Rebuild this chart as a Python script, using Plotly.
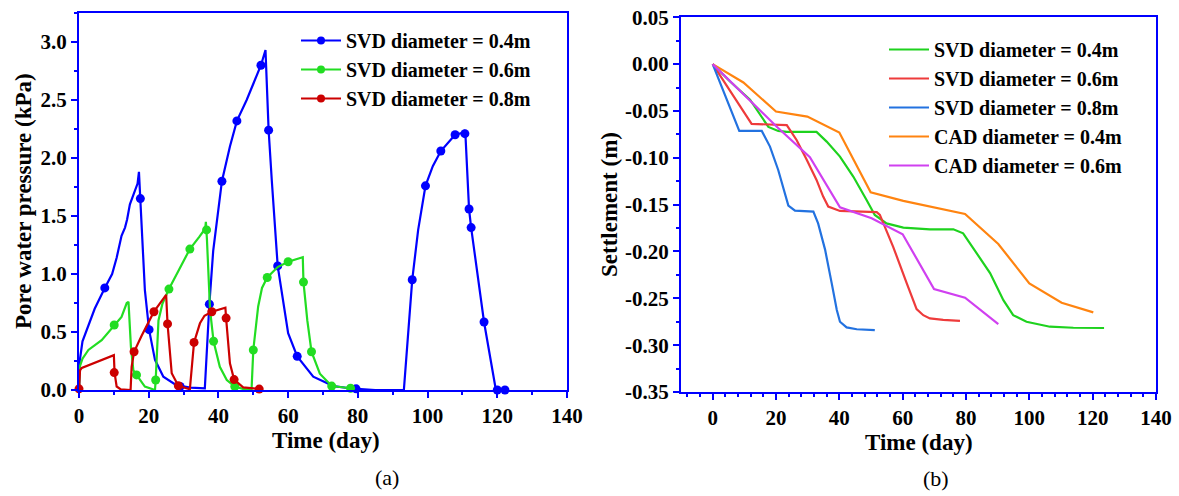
import plotly.graph_objects as go

# ---------------- (a) Pore water pressure ----------------
svd04_t = [0, 0.2, 1.0, 2.2, 4.5, 7.4, 9.5, 10.8, 12.2, 13.2, 13.8, 14.6, 16.1, 16.8, 17.2, 17.6, 18.9, 20.1,
           21.8, 24.2, 27.5, 29.0, 32.0, 36.1, 37.4, 38.5, 41.0, 43.3, 45.3, 48.1, 52.2, 53.5, 54.4, 55.3,
           57.0, 60.0, 62.6, 67.2, 73.0, 77.7, 79.5, 85.0, 93.2, 95.6, 97.3, 99.4, 101.5, 103.8, 107.9,
           110.4, 110.8, 111.9, 112.5, 116.2, 119.6, 122.2]
svd04_p = [0, 0.25, 0.42, 0.52, 0.70, 0.88, 1.00, 1.14, 1.33, 1.40, 1.47, 1.60, 1.72, 1.78, 1.88, 1.65, 0.86, 0.52,
           0.26, 0.115, 0.05, 0.035, 0.02, 0.015, 0.74, 1.20, 1.80, 2.10, 2.32, 2.50, 2.80, 2.93, 2.24, 1.81,
           1.07, 0.49, 0.29, 0.115, 0.034, 0.015, 0.01, 0.0, 0.0, 0.95, 1.38, 1.76, 1.93, 2.06, 2.20,
           2.22, 2.24, 1.56, 1.40, 0.586, 0.0, 0.0]
svd04_mt = [7.4, 17.6, 20.1, 29.0, 37.4, 41.0, 45.3, 52.2, 54.4, 57.0, 62.6, 79.5, 95.6, 99.4, 103.8, 107.9,
            110.7, 111.9, 112.5, 116.2, 120.0, 122.2]
svd04_mp = [0.88, 1.65, 0.52, 0.03, 0.74, 1.80, 2.32, 2.80, 2.24, 1.07, 0.29, 0.01, 0.95, 1.76, 2.06, 2.20,
            2.21, 1.56, 1.40, 0.586, 0.0, 0.0]

svd06_t = [0, 0.2, 1.0, 2.7, 6.5, 10.1, 12.2, 13.7, 14.2, 14.9, 15.6, 16.5, 18.9, 21.8, 22.0, 22.8, 23.9, 25.8,
           28.5, 31.8, 34.5, 36.2, 36.4, 36.7, 37.6, 38.6, 40.4, 42.4, 44.7, 47.0, 49.5, 50.0, 51.4, 52.5,
           54.0, 57.0, 60.0, 64.2, 64.4, 65.5, 66.7, 69.1, 72.5, 77.9]
svd06_p = [0, 0.2, 0.27, 0.345, 0.43, 0.56, 0.63, 0.75, 0.76, 0.37, 0.17, 0.13, 0.03, 0.0, 0.086, 0.60, 0.74, 0.87,
           1.03, 1.215, 1.32, 1.39, 1.45, 1.30, 0.69, 0.42, 0.20, 0.086, 0.03, 0.01, 0.0, 0.345, 0.72, 0.88,
           0.97, 1.06, 1.106, 1.144, 0.93, 0.60, 0.33, 0.14, 0.034, 0.015]
svd06_mt = [10.1, 16.5, 22.0, 25.8, 31.8, 36.6, 38.6, 44.7, 50.0, 54.0, 60.0, 64.4, 66.7, 72.5, 77.9]
svd06_mp = [0.56, 0.13, 0.086, 0.87, 1.215, 1.38, 0.42, 0.03, 0.345, 0.97, 1.106, 0.93, 0.33, 0.034, 0.015]

svd08_t = [0, 0.3, 0.8, 4.6, 8.0, 10.0, 10.2, 10.8, 12.0, 14.8, 15.1, 15.8, 18.0, 21.5, 25.0, 25.4, 26.6, 28.5,
           31.8, 32.3, 33.0, 34.7, 36.0, 38.1, 42.0, 42.2, 43.3, 44.5, 47.1, 51.7]
svd08_p = [0, 0.17, 0.19, 0.235, 0.27, 0.30, 0.15, 0.03, 0.005, 0.0, 0.2, 0.33, 0.47, 0.675, 0.82, 0.57, 0.144,
           0.037, 0.006, 0.2, 0.41, 0.575, 0.64, 0.675, 0.71, 0.62, 0.23, 0.09, 0.023, 0.008]
svd08_mt = [0, 10.1, 15.8, 21.5, 25.4, 28.5, 33.0, 38.1, 42.2, 44.5, 51.7]
svd08_mp = [0.01, 0.15, 0.33, 0.675, 0.57, 0.037, 0.41, 0.675, 0.62, 0.09, 0.008]

names_a = ["SVD diameter = 0.4m", "SVD diameter = 0.6m", "SVD diameter = 0.8m"]
colors_a = ["#0000FF", "#22DD22", "#CC0000"]

# ---------------- (b) Settlement ----------------
s_svd04_t = [0, 5.5, 11.8, 14.9, 17.6, 20.7, 23.4, 32.8, 36.0, 40.2, 44.4, 48.6, 51.2, 54.9, 60.2, 68.6, 76.0,
             79.1, 83.4, 87.6, 91.8, 94.9, 99.1, 106.5, 113.9, 123.6]
s_svd04_s = [0, -0.0186, -0.038, -0.054, -0.067, -0.0713, -0.0723, -0.0723, -0.0827, -0.0987, -0.120, -0.145,
             -0.161, -0.170, -0.1745, -0.1763, -0.1763, -0.1806, -0.202, -0.223, -0.252, -0.268, -0.275,
             -0.2803, -0.2814, -0.2817]
s_svd06_t = [0, 12.3, 23.4, 26.5, 29.7, 32.8, 34.9, 36.5, 40.2, 51.8, 52.8, 57.0, 61.3, 64.4, 66.5, 68.6, 72.8, 78.1]
s_svd06_s = [0, -0.0638, -0.065, -0.081, -0.102, -0.1236, -0.1414, -0.152, -0.1567, -0.158, -0.161, -0.195,
             -0.234, -0.2615, -0.268, -0.2714, -0.273, -0.274]
s_svd08_t = [0, 8.4, 15.5, 18.1, 20.7, 22.8, 23.9, 26.0, 31.8, 33.3, 35.5, 37.6, 39.2, 40.2, 42.3, 45.5, 51.2]
s_svd08_s = [0, -0.0713, -0.0713, -0.088, -0.113, -0.138, -0.151, -0.1564, -0.1575, -0.170, -0.198, -0.234,
             -0.2625, -0.275, -0.281, -0.283, -0.284]
s_cad04_t = [0, 9.7, 20.0, 29.9, 40.0, 49.9, 60.2, 68.6, 79.7, 90.2, 100.0, 110.2, 120.2]
s_cad04_s = [0, -0.0196, -0.0506, -0.056, -0.073, -0.1368, -0.146, -0.152, -0.160, -0.192, -0.234, -0.2547, -0.265]
s_cad06_t = [0, 10.0, 20.0, 30.7, 40.2, 50.2, 60.0, 69.9, 79.7, 90.2]
s_cad06_s = [0, -0.033, -0.066, -0.0994, -0.1528, -0.1645, -0.1816, -0.240, -0.2494, -0.2775]

names_b = ["SVD diameter = 0.4m", "SVD diameter = 0.6m", "SVD diameter = 0.8m",
           "CAD diameter = 0.4m", "CAD diameter = 0.6m"]
colors_b = ["#1ED21E", "#EE3B3B", "#2372E0", "#FF8410", "#D040F0"]

yticks_a = [0.0, 0.5, 1.0, 1.5, 2.0, 2.5, 3.0]
yticks_b = [0.05, 0.0, -0.05, -0.10, -0.15, -0.20, -0.25, -0.30, -0.35]
yticklabels_b = ["0.05", "0.00", "-0.05", "-0.10", "-0.15", "-0.20", "-0.25", "-0.30", "-0.35"]

AX = "#0000FF"
FONT = "Liberation Serif, Times New Roman, serif"
BOLD = dict(family=FONT, size=21, color="black", weight="bold")

fig = go.Figure()

series_a = [(svd04_t, svd04_p, svd04_mt, svd04_mp), (svd06_t, svd06_p, svd06_mt, svd06_mp),
            (svd08_t, svd08_p, svd08_mt, svd08_mp)]
for (t, p, mt, mp), nm, c in zip(series_a, names_a, colors_a):
    fig.add_trace(go.Scatter(x=t, y=p, mode="lines", line=dict(color=c, width=2.2), showlegend=False,
                             cliponaxis=False, xaxis="x", yaxis="y"))
    fig.add_trace(go.Scatter(x=mt, y=mp, mode="markers", marker=dict(color=c, size=9), showlegend=False,
                             cliponaxis=False, xaxis="x", yaxis="y"))
    fig.add_trace(go.Scatter(x=[None], y=[None], mode="lines+markers", name=nm,
                             line=dict(color=c, width=2.2), marker=dict(color=c, size=8),
                             xaxis="x", yaxis="y", legend="legend"))

series_b = [(s_svd04_t, s_svd04_s), (s_svd06_t, s_svd06_s), (s_svd08_t, s_svd08_s),
            (s_cad04_t, s_cad04_s), (s_cad06_t, s_cad06_s)]
for (t, s), nm, c in zip(series_b, names_b, colors_b):
    fig.add_trace(go.Scatter(x=t, y=s, mode="lines", name=nm, line=dict(color=c, width=2.2),
                             xaxis="x2", yaxis="y2", legend="legend2"))

W, H = 1179, 496
def px(x):
    return x / W
def py(y):
    return 1 - y / H

common = dict(showgrid=False, zeroline=False, showline=True, linecolor=AX, linewidth=2, automargin=False,
              ticks="outside", ticklen=6, tickwidth=2, tickcolor=AX, tickfont=BOLD)
inside = dict(showgrid=False, zeroline=False, showline=False, ticks="inside", ticklen=6, tickwidth=2,
              tickcolor=AX, showticklabels=False, automargin=False)

dom_ax = [px(79), px(567)]
dom_ay = [py(390), py(13)]
dom_bx = [px(681), px(1156)]
dom_by = [py(392), py(17.3)]

LEGFONT = dict(family=FONT, size=20, color="black", weight="bold")

fig.update_layout(
    width=W, height=H, autosize=False,
    margin=dict(l=0, r=0, t=0, b=0, autoexpand=False),
    paper_bgcolor="white", plot_bgcolor="white",
    xaxis=dict(domain=dom_ax, anchor="y", range=[0, 140], tick0=0, dtick=20, mirror=True,
               minor=dict(dtick=10, ticks="outside", ticklen=3, tickwidth=2, tickcolor=AX), **common),
    yaxis=dict(domain=dom_ay, anchor="x", range=[0, 3.25], tickvals=yticks_a, tickformat=".1f", mirror=True,
               minor=dict(dtick=0.25, ticks="outside", ticklen=3, tickwidth=2, tickcolor=AX), **common),
    xaxis3=dict(overlaying="x", anchor="y", side="top", range=[0, 140], tick0=0, dtick=10, **inside),
    yaxis3=dict(overlaying="y", anchor="x", side="right", range=[0, 3.25], tick0=0, dtick=0.25, **inside),
    xaxis2=dict(domain=dom_bx, anchor="y2", range=[-10, 140], tick0=0, dtick=20, mirror=True,
                minor=dict(dtick=4, ticks="outside", ticklen=3, tickwidth=2, tickcolor=AX), **common),
    yaxis2=dict(domain=dom_by, anchor="x2", range=[-0.35, 0.05], tickvals=yticks_b, ticktext=yticklabels_b,
                mirror=True, minor=dict(dtick=0.025, ticks="outside", ticklen=3, tickwidth=2, tickcolor=AX),
                **common),
    xaxis4=dict(overlaying="x2", anchor="y2", side="top", range=[-10, 140], tick0=0, dtick=20,
                minor=dict(dtick=4, ticks="inside", ticklen=3, tickwidth=2, tickcolor=AX), **inside),
    yaxis4=dict(overlaying="y2", anchor="x2", side="right", range=[-0.35, 0.05], tick0=0, dtick=0.05,
                minor=dict(dtick=0.025, ticks="inside", ticklen=3, tickwidth=2, tickcolor=AX), **inside),
    legend=dict(x=px(296), y=py(21), xanchor="left", yanchor="top", bgcolor="rgba(0,0,0,0)",
                font=LEGFONT, itemwidth=40, tracegroupgap=0),
    legend2=dict(x=px(884), y=py(30), xanchor="left", yanchor="top", bgcolor="rgba(0,0,0,0)",
                 font=LEGFONT, itemwidth=40, tracegroupgap=0),
)

ann_font = dict(family=FONT, size=23, color="black", weight="bold")
fig.add_annotation(x=px(326), y=py(440), xref="paper", yref="paper", text="Time (day)", showarrow=False,
                   font=ann_font, xanchor="center", yanchor="middle")
fig.add_annotation(x=px(919), y=py(442), xref="paper", yref="paper", text="Time (day)", showarrow=False,
                   font=ann_font, xanchor="center", yanchor="middle")
fig.add_annotation(x=px(23), y=py(201), xref="paper", yref="paper", text="Pore water pressure (kPa)",
                   showarrow=False, font=ann_font, textangle=-90, xanchor="center", yanchor="middle")
fig.add_annotation(x=px(609), y=py(205), xref="paper", yref="paper", text="Settlement (m)",
                   showarrow=False, font=ann_font, textangle=-90, xanchor="center", yanchor="middle")
fig.add_annotation(x=px(387), y=py(477), xref="paper", yref="paper", text="(a)", showarrow=False,
                   font=dict(family=FONT, size=22, color="black"), xanchor="center", yanchor="middle")
fig.add_annotation(x=px(936), y=py(478), xref="paper", yref="paper", text="(b)", showarrow=False,
                   font=dict(family=FONT, size=22, color="black"), xanchor="center", yanchor="middle")

fig.write_html("out.html", config={"displayModeBar": False},
               post_script="document.body.style.margin='0';document.body.style.overflow='hidden';")
